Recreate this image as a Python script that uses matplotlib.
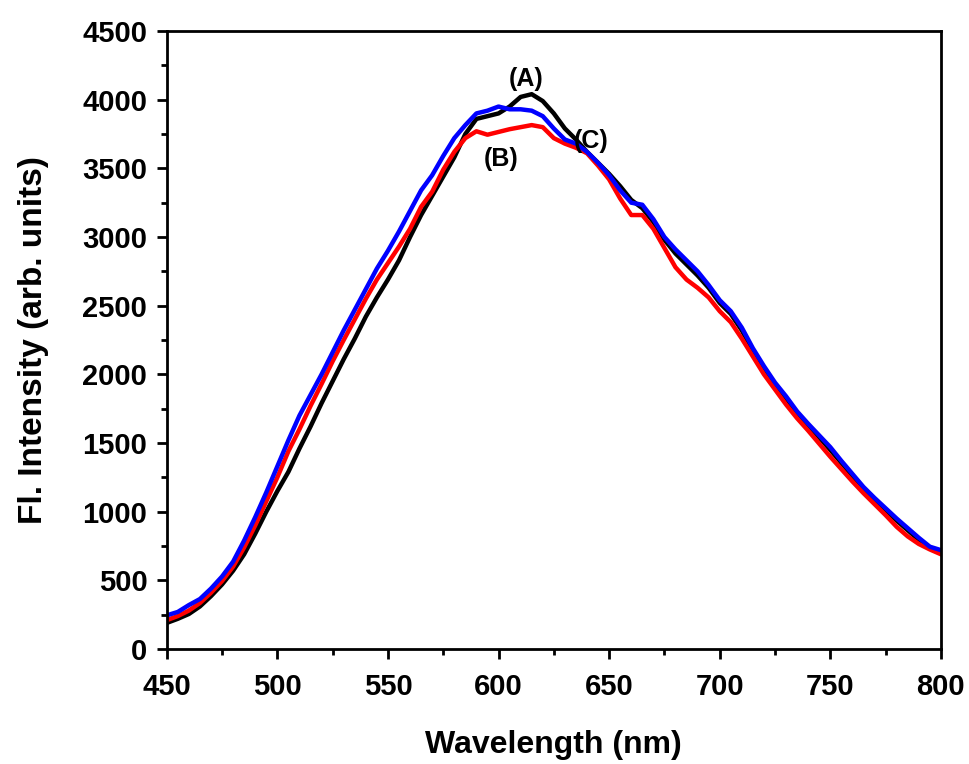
import matplotlib

matplotlib.use("Agg")
import matplotlib.pyplot as plt  # noqa: E402
from matplotlib.ticker import MultipleLocator  # noqa: E402

wavelength = list(range(450, 801, 5))

# (A) black
intensity_a = [190, 220, 255, 310, 385, 470, 570, 690, 840, 1000,
               1150, 1290, 1460, 1620, 1790, 1950, 2110, 2260, 2420, 2560,
               2690, 2830, 3000, 3160, 3300, 3440, 3580, 3750, 3860, 3880,
               3900, 3950, 4020, 4040, 3990, 3900, 3790, 3710, 3620, 3540,
               3460, 3370, 3270, 3210, 3110, 2980, 2880, 2800, 2720, 2630,
               2520, 2440, 2320, 2170, 2040, 1920, 1820, 1715, 1625, 1540,
               1450, 1355, 1260, 1165, 1085, 1010, 935, 865, 795, 740, 705]

# (B) red
intensity_b = [210, 240, 280, 335, 410, 495, 600, 740, 900, 1075,
               1250, 1440, 1600, 1770, 1930, 2095, 2250, 2400, 2550, 2690,
               2810, 2930, 3060, 3220, 3330, 3490, 3620, 3720, 3770, 3745,
               3765, 3785, 3800, 3815, 3800, 3720, 3680, 3650, 3610, 3520,
               3420, 3280, 3160, 3160, 3060, 2920, 2780, 2690, 2630, 2560,
               2460, 2380, 2260, 2130, 2000, 1890, 1780, 1680, 1590, 1495,
               1400, 1310, 1220, 1135, 1055, 975, 890, 820, 765, 725, 690]

# (C) blue
intensity_c = [245, 270, 320, 364, 440, 528, 636, 790, 960, 1140,
               1330, 1520, 1700, 1850, 2000, 2160, 2320, 2470, 2620, 2770,
               2900, 3040, 3190, 3340, 3450, 3590, 3720, 3815, 3900, 3920,
               3950, 3930, 3930, 3920, 3880, 3790, 3710, 3680, 3620, 3540,
               3450, 3340, 3250, 3235, 3130, 3000, 2910, 2830, 2750, 2650,
               2540, 2460, 2340, 2190, 2060, 1940, 1840, 1730, 1640, 1555,
               1470, 1370, 1275, 1180, 1100, 1025, 950, 880, 810, 745, 720]

series = [("(A)", intensity_a, "black"),
          ("(B)", intensity_b, "#ff0000"),
          ("(C)", intensity_c, "#0000ff")]
label_pos = {"(A)": (612.5, 4150), "(B)": (601, 3570), "(C)": (642, 3700)}

plt.rcParams["font.family"] = ["Liberation Sans", "DejaVu Sans"]
plt.rcParams["font.weight"] = "bold"

fig = plt.figure(figsize=(9.7, 7.64), dpi=100)
ax = fig.add_axes([0.1719, 0.1505, 0.7981, 0.8089])

for name, vals, color in series:
    ax.plot(wavelength, vals, color=color, linewidth=3.2)
    ax.text(*label_pos[name], name, ha="center", va="center",
            fontsize=18, weight="bold")

ax.set_xlim(450, 800)
ax.set_ylim(0, 4500)
ax.xaxis.set_major_locator(MultipleLocator(50))
ax.xaxis.set_minor_locator(MultipleLocator(25))
ax.yaxis.set_major_locator(MultipleLocator(500))
ax.yaxis.set_minor_locator(MultipleLocator(250))
ax.tick_params(which="major", direction="out", length=7, width=2,
               labelsize=21, pad=7)
ax.tick_params(axis="x", which="major", pad=10)
ax.tick_params(which="minor", direction="out", length=4, width=2)
for lab in ax.get_xticklabels() + ax.get_yticklabels():
    lab.set_fontweight("bold")
for sp in ax.spines.values():
    sp.set_linewidth(2)

ax.set_xlabel("Wavelength (nm)", fontsize=23, weight="bold", labelpad=21)
ax.set_ylabel("Fl. Intensity (arb. units)", fontsize=24, weight="bold",
              labelpad=24)

fig.savefig("out.png", dpi=100)
plt.close(fig)
